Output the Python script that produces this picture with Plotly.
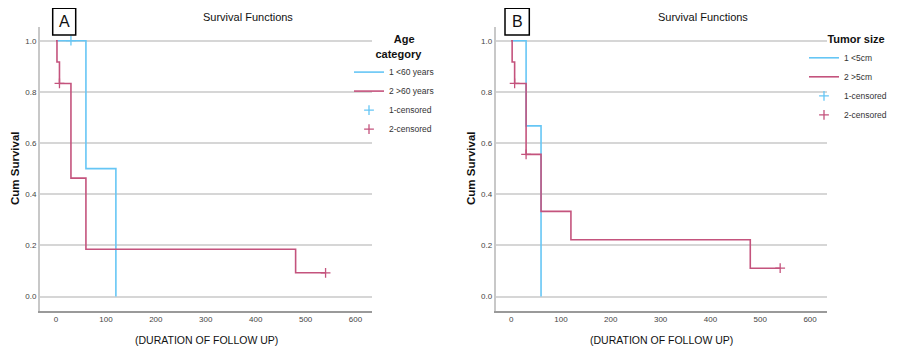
import plotly.graph_objects as go

# ---------------- data ----------------
# Panel A: Age category
a_g1_time = [0, 60, 120]
a_g1_surv = [1.0, 0.5, 0.0]
a_g1_cens_time = [30]
a_g1_cens_surv = [1.0]

a_g2_time = [0, 2, 7, 30, 60, 480, 540]
a_g2_surv = [1.0, 0.917, 0.833, 0.463, 0.185, 0.093, 0.093]
a_g2_cens_time = [7, 540]
a_g2_cens_surv = [0.833, 0.093]

# Panel B: Tumor size
b_g1_time = [0, 30, 60]
b_g1_surv = [1.0, 0.667, 0.0]
b_g1_cens_time = [None]
b_g1_cens_surv = [None]

b_g2_time = [0, 2, 7, 30, 60, 120, 480, 540]
b_g2_surv = [1.0, 0.917, 0.833, 0.556, 0.333, 0.222, 0.111, 0.111]
b_g2_cens_time = [7, 30, 540]
b_g2_cens_surv = [0.833, 0.556, 0.111]

a_names = ["1 <60 years", "2 >60 years", "1-censored", "2-censored"]
b_names = ["1 <5cm", "2 >5cm", "1-censored", "2-censored"]
y_ticks = [0.0, 0.2, 0.4, 0.6, 0.8, 1.0]
x_ticks = [0, 100, 200, 300, 400, 500, 600]

BLUE = "#66c6f5"
RED = "#c4537d"
FONT = "Liberation Sans Narrow, Arial Narrow, Liberation Sans, Arial, sans-serif"
NB = "&nbsp;"

# the page body has an 8px margin, so the figure sits at (8, 8) in the window
OX, OY = 8, 8
W, H = 892, 349


def px(X):
    return (X - OX) / W


def py(Y):
    return 1 - (Y - OY) / H


fig = go.Figure()


def add_panel(xa, ya, leg, names, g1t, g1s, g1ct, g1cs, g2t, g2s, g2ct, g2cs):
    fig.add_trace(go.Scatter(x=g1t, y=g1s, mode="lines", line=dict(color=BLUE, width=1.6, shape="hv"),
                             name=names[0], xaxis=xa, yaxis=ya, legend=leg, legendrank=1))
    fig.add_trace(go.Scatter(x=g1ct, y=g1cs, mode="markers",
                             marker=dict(symbol="cross-thin", size=7, line=dict(color=BLUE, width=1.3)),
                             name=names[2], xaxis=xa, yaxis=ya, legend=leg, legendrank=3))
    fig.add_trace(go.Scatter(x=g2t, y=g2s, mode="lines", line=dict(color=RED, width=1.6, shape="hv"),
                             name=names[1], xaxis=xa, yaxis=ya, legend=leg, legendrank=2))
    fig.add_trace(go.Scatter(x=g2ct, y=g2cs, mode="markers",
                             marker=dict(symbol="cross-thin", size=7, line=dict(color=RED, width=1.3)),
                             name=names[3], xaxis=xa, yaxis=ya, legend=leg, legendrank=4))


add_panel("x", "y", "legend", a_names, a_g1_time, a_g1_surv, a_g1_cens_time, a_g1_cens_surv,
          a_g2_time, a_g2_surv, a_g2_cens_time, a_g2_cens_surv)
add_panel("x2", "y2", "legend2", b_names, b_g1_time, b_g1_surv, b_g1_cens_time, b_g1_cens_surv,
          b_g2_time, b_g2_surv, b_g2_cens_time, b_g2_cens_surv)

ydom = [py(310.7), py(27)]

xcommon = dict(showgrid=False, zeroline=False, showline=True, linecolor="#9a9a9a", linewidth=2,
               ticks="", tickvals=x_ticks, tickfont=dict(size=8, color="#444", family=FONT))
ycommon = dict(showgrid=True, gridcolor="#d6d6d6", gridwidth=1.8, zeroline=False, showline=True,
               linecolor="#c8c8c8", linewidth=2, ticks="", tickvals=y_ticks, tickformat=".1f",
               range=[-0.055, 1.0535], domain=ydom, tickfont=dict(size=8, color="#444", family=FONT))

fig.update_layout(
    width=W, height=H, margin=dict(l=0, r=0, t=0, b=0),
    paper_bgcolor="white", plot_bgcolor="white",
    font=dict(family=FONT, color="#222"),
    xaxis=dict(domain=[px(40), px(372)], range=[-32, 633], anchor="y", **xcommon),
    yaxis=dict(anchor="x", **ycommon),
    xaxis2=dict(domain=[px(495.7), px(827)], range=[-31, 634], anchor="y2", **xcommon),
    yaxis2=dict(anchor="x2", **ycommon),
    legend=dict(x=px(349), y=py(29), xanchor="left", yanchor="top", bgcolor="rgba(0,0,0,0)",
                title=dict(text="<b>" + NB * 14 + "Age<br>" + NB * 8 + "category</b>", side="top",
                           font=dict(size=11, color="#111")),
                font=dict(size=8.5, color="#333"), itemwidth=30, tracegroupgap=0),
    legend2=dict(x=px(804), y=py(29), xanchor="left", yanchor="top", bgcolor="rgba(0,0,0,0)",
                 title=dict(text="<b>" + NB * 7 + "Tumor size</b>", side="top",
                            font=dict(size=11, color="#111")),
                 font=dict(size=8.5, color="#333"), itemwidth=30, tracegroupgap=0),
    showlegend=True,
)

ann = []
for cx in (248, 703):
    ann.append(dict(text="Survival Functions", x=px(cx), y=py(17), xref="paper", yref="paper",
                    xanchor="center", yanchor="middle",
                    showarrow=False, font=dict(size=11, color="#111")))
for cx in (15, 471):
    ann.append(dict(text="<b>Cum Survival</b>", x=px(cx), y=py(168), xref="paper", yref="paper",
                    xanchor="center", yanchor="middle",
                    showarrow=False, textangle=-90, font=dict(size=11.5, color="#111")))
for cx in (206, 661):
    ann.append(dict(text="(DURATION OF FOLLOW UP)", x=px(cx), y=py(340), xref="paper", yref="paper",
                    xanchor="center", yanchor="middle",
                    showarrow=False, font=dict(size=10.5, color="#111")))
for label, x0, x1 in (("A", 52.7, 75.7), ("B", 505, 529.3)):
    fig.add_shape(type="rect", xref="paper", yref="paper", x0=px(x0), x1=px(x1),
                  y0=py(35), y1=py(8.3), line=dict(color="black", width=1.5), fillcolor="white")
    ann.append(dict(text=label, x=px((x0 + x1) / 2), y=py(21.7), xref="paper", yref="paper",
                    xanchor="center", yanchor="middle",
                    showarrow=False, font=dict(size=16, color="#111", family="Liberation Sans, Arial")))
fig.update_layout(annotations=ann)

fig.write_html("out.html")
